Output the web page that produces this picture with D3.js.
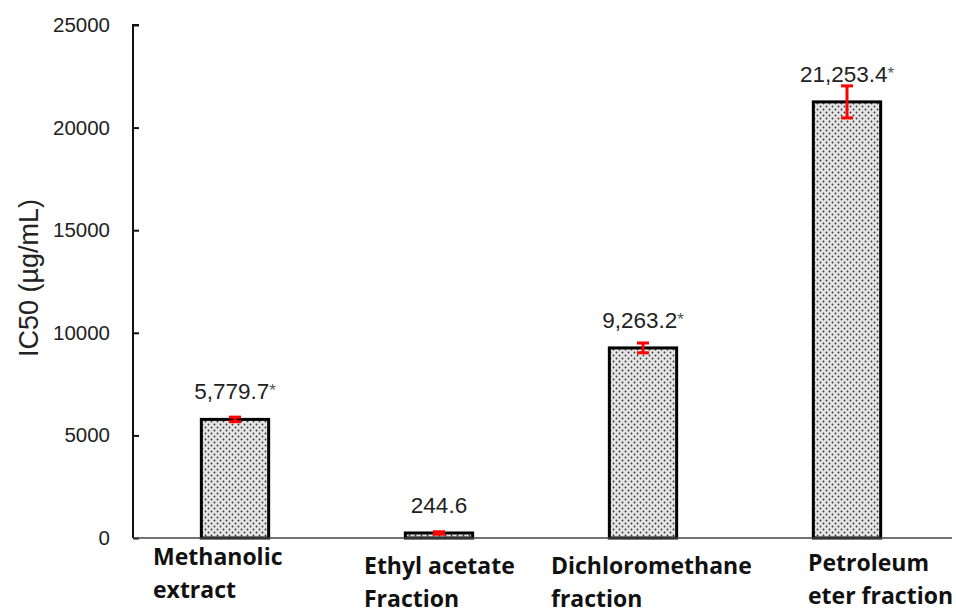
<!doctype html>
<html lang="en">
<head>
  <meta charset="utf-8">
  <title>IC50</title>
  <script src="https://d3js.org/d3.v7.min.js"></script>
  <style>
    body { margin:0; background:#fff; }
    text { font-family: "Liberation Sans", Arial, sans-serif; fill:#222; }
    .xlab { font-family: "Liberation Sans Narrow", "Open Sans", sans-serif; font-weight:bold; font-size:23px; fill:#111; }
  </style>
</head>
<body>
<div id="chart"></div>
<script>
  // values
  var categories = ["Methanolic extract", "Ethyl acetate Fraction", "Dichloromethane fraction", "Petroleum eter fraction"];
  var labelLines = [["Methanolic", "extract"], ["Ethyl acetate", "Fraction"], ["Dichloromethane", "fraction"], ["Petroleum", "eter fraction"]];
  var values = [5779.7, 244.6, 9263.2, 21253.4];
  var errors = [110, 60, 240, 780];
  var valueLabels = ["5,779.7", "244.6", "9,263.2", "21,253.4"];
  var stars = ["*", "", "*", "*"];
  var yTicks = [0, 5000, 10000, 15000, 20000, 25000];

  var width = 956, height = 608;
  var svg = d3.select("#chart").append("svg")
    .attr("width", width)
    .attr("height", height);

  var defs = svg.append("defs");
  var pat = defs.append("pattern")
    .attr("id", "dots")
    .attr("width", 6).attr("height", 6)
    .attr("patternUnits", "userSpaceOnUse");
  pat.append("rect").attr("width", 6).attr("height", 6).attr("fill", "#e4e4e4");
  pat.append("circle").attr("cx", 1.5).attr("cy", 1.5).attr("r", 0.9).attr("fill", "#333");
  pat.append("circle").attr("cx", 4.5).attr("cy", 4.5).attr("r", 0.9).attr("fill", "#333");

  var x = d3.scaleBand().domain(categories).range([133, 949]).paddingInner(0.67).paddingOuter(0.335);
  var y = d3.scaleLinear().domain([0, 25000]).range([538, 25]);

  // y axis
  var yAxis = svg.append("g")
    .attr("transform", "translate(133,0)")
    .call(d3.axisRight(y).tickValues(yTicks).tickSize(6).tickFormat(""));
  yAxis.select(".domain").attr("stroke", "#111").attr("stroke-width", 2).attr("d", "M6,25H0V538");
  yAxis.selectAll(".tick line").attr("stroke", "#111").attr("stroke-width", 2);

  svg.selectAll(".ytl")
    .data(yTicks)
    .enter().append("text")
    .attr("class", "ytl")
    .attr("x", 110)
    .attr("y", function(d){ return y(d) + 7; })
    .attr("text-anchor", "end")
    .attr("font-size", 20.5)
    .text(function(d){ return d; });

  svg.append("text")
    .attr("transform", "translate(38,278) rotate(-90)")
    .attr("text-anchor", "middle")
    .attr("font-size", 27)
    .text("IC50 (µg/mL)");

  // bars
  svg.selectAll(".bar")
    .data(values)
    .enter().append("rect")
    .attr("class", "bar")
    .attr("x", function(d, i){ return x(categories[i]); })
    .attr("y", function(d){ return y(d); })
    .attr("width", x.bandwidth())
    .attr("height", function(d){ return y(0) - y(d); })
    .attr("fill", "url(#dots)")
    .attr("stroke", "#000")
    .attr("stroke-width", 3);

  // baseline
  svg.append("line")
    .attr("x1", 133).attr("x2", 952)
    .attr("y1", y(0)).attr("y2", y(0))
    .attr("stroke", "#444").attr("stroke-width", 1.5);

  // error bars
  var err = svg.selectAll(".err")
    .data(values)
    .enter().append("g")
    .attr("class", "err")
    .attr("stroke", "#f00")
    .attr("stroke-width", 3);
  err.append("line")
    .attr("x1", function(d, i){ return x(categories[i]) + x.bandwidth() / 2; })
    .attr("x2", function(d, i){ return x(categories[i]) + x.bandwidth() / 2; })
    .attr("y1", function(d, i){ return y(d + errors[i]); })
    .attr("y2", function(d, i){ return y(d - errors[i]); });
  err.selectAll(".cap")
    .data(function(d, i){ return [[d + errors[i], i], [d - errors[i], i]]; })
    .enter().append("line")
    .attr("x1", function(d){ return x(categories[d[1]]) + x.bandwidth() / 2 - 6; })
    .attr("x2", function(d){ return x(categories[d[1]]) + x.bandwidth() / 2 + 6; })
    .attr("y1", function(d){ return y(d[0]); })
    .attr("y2", function(d){ return y(d[0]); });

  // value labels
  var vl = svg.selectAll(".vl")
    .data(values)
    .enter().append("text")
    .attr("class", "vl")
    .attr("x", function(d, i){ return x(categories[i]) + x.bandwidth() / 2; })
    .attr("y", function(d, i){ return y(d) - 20; })
    .attr("text-anchor", "middle")
    .attr("font-size", 22.5);
  vl.append("tspan").text(function(d, i){ return valueLabels[i]; });
  vl.append("tspan").attr("font-size", 17).attr("dy", -3).attr("fill", "#555").text(function(d, i){ return stars[i]; });

  // category labels
  var xlOffsets = [[153, 565], [364, 574], [551, 574], [808, 571]];
  labelLines.forEach(function(lines, i) {
    var t = svg.append("text")
      .attr("class", "xlab")
      .attr("x", xlOffsets[i][0])
      .attr("y", xlOffsets[i][1]);
    lines.forEach(function(l, j) {
      t.append("tspan").attr("x", xlOffsets[i][0]).attr("dy", j === 0 ? 0 : 33).text(l);
    });
  });
</script>
</body>
</html>
